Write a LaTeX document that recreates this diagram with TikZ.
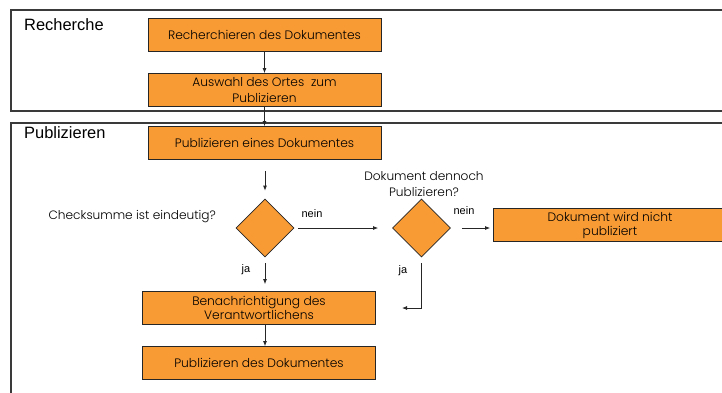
\documentclass[tikz,border=0pt]{standalone}
\usepackage{fontspec}
\setmainfont{Liberation Sans}
\newfontfamily\boxfont{Poppins Light}
\usetikzlibrary{arrows.meta,shapes.geometric}

\definecolor{steporange}{HTML}{F99B34}
\definecolor{lanegray}{HTML}{3A3A3A}

\begin{document}
\begin{tikzpicture}[
  x=1bp,
  y=-1bp,
  lane/.style={draw=lanegray,line width=1.3bp},
  lanetitle/.style={anchor=west,inner sep=0pt,font=\fontsize{16.5}{19}\selectfont},
  stepbox/.style={draw=black!85,line width=0.8bp,fill=steporange,
    minimum width=233bp,minimum height=33bp,inner sep=0pt,align=center,
    font=\boxfont\fontsize{12.3}{16}\selectfont},
  choice/.style={diamond,draw=black!85,line width=0.8bp,fill=steporange,
    minimum width=58bp,minimum height=58bp,inner sep=0pt},
  label/.style={inner sep=0pt,font=\fontsize{11}{13}\selectfont},
  question/.style={inner sep=0pt,align=center,font=\boxfont\fontsize{12.2}{16}\selectfont},
  flow/.style={draw=black!85,line width=0.8bp,-{Latex[length=5bp,width=4bp]}}
]
  \clip (0,0) rectangle (722,392);
  \useasboundingbox (0,0) rectangle (722,392);

  % Lanes.
  \draw[lane] (11,10) rectangle (740,111);
  \draw[lane] (11,123) rectangle (740,420);
  \node[lanetitle] (tRecherche) at (24,25) {Recherche};
  \node[lanetitle] (tPublizieren) at (24,133) {Publizieren};

  % Steps.
  \node[stepbox] (recherchieren) at (264.5,35) {Recherchieren des Dokumentes};
  \node[stepbox] (auswahl) at (264.5,90) {Auswahl des Ortes\ \ zum\\Publizieren};
  \node[stepbox] (publEines) at (264.5,143) {Publizieren eines Dokumentes};
  \node[choice] (check) at (265,228) {};
  \node[choice] (dennoch) at (421.5,228) {};
  \node[stepbox] (nicht) at (610,225) {\raisebox{-2bp}{Dokument wird nicht}\\publiziert};
  \node[stepbox] (benach) at (259,308) {\raisebox{-2bp}{Benachrichtigung des}\\Verantwortlichens};
  \node[stepbox] (publDes) at (259,363) {Publizieren des Dokumentes};

  % Questions.
  \node[question,anchor=east] (qCheck) at (216,217) {Checksumme ist eindeutig?};
  \node[question] (qDennoch) at (424,184) {Dokument dennoch\\Publizieren?};
  \coordinate (jaEnd) at (402,308);

  % Connectors.
  \draw[flow] (recherchieren) -- (auswahl);
  \draw[flow] (auswahl) -- (publEines);
  \draw[flow,shorten <=11bp,shorten >=8bp] (publEines.south -| check) -- (check.north);
  \draw[flow,shorten <=4bp,shorten >=14bp] (check.east) -- (dennoch.west);
  \draw[flow,shorten <=11bp,shorten >=3bp] (dennoch.east) -- (nicht.west |- dennoch.east);
  \draw[flow,shorten <=6bp,shorten >=7bp] (check.south) -- (benach.north -| check);
  \draw[flow,shorten <=6bp] (dennoch.south) |- (jaEnd);
  \draw[flow] (benach.south -| check) -- (publDes.north -| check);

  % Branch labels.
  \node[label] (neinA) at (312,214) {nein};
  \node[label] (neinB) at (464,211) {nein};
  \node[label] (jaA) at (246,270) {ja};
  \node[label] (jaB) at (403,271) {ja};
\end{tikzpicture}
\end{document}
